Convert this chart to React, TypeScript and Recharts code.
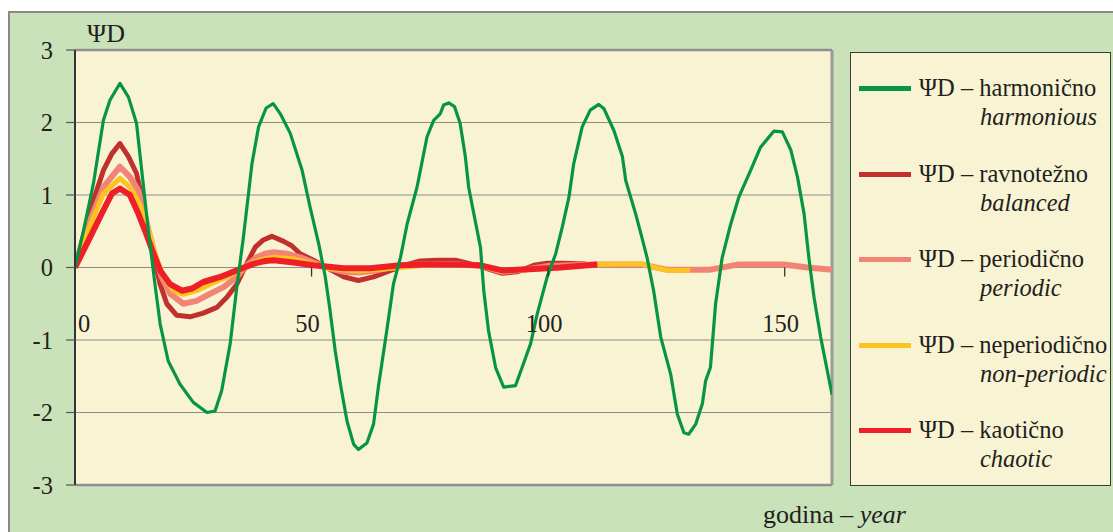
import React from 'react';
import { LineChart, Line, XAxis, YAxis, CartesianGrid, ReferenceLine } from 'recharts';

// ---- data (x = year, y = ΨD) ----
const harmonic: [number, number][] = [
  [0, 0], [1.8, 0.51], [3.9, 1.16], [6.0, 2.03], [7.4, 2.31], [9.5, 2.54], [11.3, 2.35], [13.0, 1.99],
  [14.1, 1.34], [15.5, 0.51], [16.9, -0.23], [18.0, -0.78], [19.7, -1.29], [22.2, -1.61], [25.0, -1.86],
  [27.9, -2.0], [29.6, -1.98], [31.0, -1.7], [32.8, -1.05], [34.2, -0.27], [35.6, 0.42], [37.4, 1.43],
  [38.8, 1.94], [40.4, 2.2], [41.9, 2.26], [43.4, 2.12], [45.5, 1.85], [48.0, 1.34], [49.7, 0.83],
  [51.5, 0.33], [52.9, -0.13], [53.9, -0.59], [55.0, -1.15], [56.1, -1.61], [57.5, -2.12], [58.9, -2.44],
  [59.9, -2.51], [61.7, -2.42], [63.1, -2.16], [64.2, -1.61], [65.9, -0.87], [67.3, -0.23], [68.8, 0.14],
  [70.2, 0.6], [72.3, 1.11], [74.4, 1.8], [75.8, 2.03], [77.2, 2.12], [77.9, 2.24], [79.0, 2.27],
  [80.2, 2.22], [81.4, 1.99], [82.5, 1.53], [83.2, 1.11], [84.3, 0.74], [85.7, 0.28], [86.4, -0.32],
  [87.4, -0.87], [88.9, -1.38], [90.6, -1.65], [93.1, -1.63], [94.5, -1.38], [96.3, -1.05], [97.7, -0.64],
  [99.8, -0.13], [101.6, 0.19], [103.0, 0.56], [104.4, 0.97], [105.4, 1.43], [107.2, 1.94], [108.9, 2.17],
  [110.7, 2.25], [111.8, 2.19], [113.9, 1.89], [115.7, 1.53], [116.4, 1.2], [118.5, 0.74], [119.8, 0.42],
  [120.9, 0.14], [122.3, -0.32], [123.8, -0.96], [125.9, -1.47], [127.3, -2.02], [128.7, -2.28],
  [129.7, -2.3], [131.2, -2.16], [132.6, -1.88], [133.3, -1.56], [134.3, -1.38], [135.4, -0.5],
  [136.8, 0.14], [138.6, 0.6], [140.3, 0.97], [142.8, 1.34], [144.9, 1.66], [147.7, 1.88], [149.5, 1.87],
  [151.3, 1.62], [152.7, 1.25], [154.1, 0.74], [155.1, 0.14], [156.2, -0.41], [157.6, -0.96], [160, -1.75],
];

const balanced: [number, number][] = [
  [0, 0], [3.2, 0.79], [6.0, 1.34], [7.8, 1.57], [9.5, 1.71], [11.3, 1.53], [13.0, 1.3], [14.4, 0.88],
  [16.2, 0.28], [18.0, -0.23], [19.4, -0.5], [21.5, -0.66], [24.3, -0.68], [27.1, -0.63], [30.0, -0.55],
  [32.1, -0.41], [34.2, -0.23], [36.3, 0.05], [38.1, 0.28], [39.8, 0.38], [41.6, 0.43], [44.1, 0.36],
  [45.8, 0.3], [47.6, 0.19], [50.4, 0.1], [53.2, 0.0], [56.8, -0.13], [59.9, -0.18], [63.1, -0.13],
  [65.9, -0.06], [69.5, 0.03], [73.0, 0.09], [76.5, 0.1], [80.4, 0.1], [83.6, 0.05], [86.4, 0.0],
  [90.3, -0.08], [93.4, -0.06], [97.0, 0.03], [99.8, 0.06], [103.3, 0.06], [108, 0.05],
];

const periodic: [number, number][] = [
  [0, 0], [3.2, 0.65], [6.0, 1.11], [9.5, 1.39], [11.6, 1.25], [13.4, 1.06], [14.8, 0.7], [16.6, 0.24],
  [18.3, -0.13], [20.1, -0.36], [22.9, -0.5], [25.7, -0.46], [28.6, -0.36], [31.4, -0.27], [34.2, -0.13],
  [36.3, 0.03], [38.4, 0.14], [40.2, 0.19], [42.0, 0.21], [44.8, 0.19], [47.6, 0.14], [50.4, 0.07],
  [53.2, 0.0], [56.8, -0.06], [60.0, -0.07], [63.8, -0.04], [69.0, 0.03], [73.0, 0.04], [80.0, 0.05],
  [86.0, 0.02], [90.3, -0.06], [95.0, -0.03], [100.0, 0.02], [110.0, 0.04], [120.0, 0.04], [125.0, -0.03],
  [130.1, -0.03], [134.3, -0.03], [140.0, 0.04], [144.0, 0.04], [149.8, 0.04], [154.8, 0.0], [160, -0.03],
];

const nonPeriodic: [number, number][] = [
  [0, 0], [3.2, 0.58], [6.0, 1.02], [9.5, 1.23], [11.6, 1.11], [13.6, 0.88], [15.2, 0.6], [16.9, 0.19],
  [18.7, -0.13], [20.8, -0.32], [22.9, -0.37], [25.7, -0.32], [28.6, -0.23], [32.1, -0.13], [34.9, -0.04],
  [37.7, 0.07], [40.2, 0.12], [42.0, 0.14], [46.2, 0.12], [50.4, 0.05], [53.2, -0.01], [60.0, -0.05],
  [67.0, -0.01], [74.0, 0.03], [80.0, 0.04], [86.0, 0.02], [90.3, -0.05], [97.0, -0.02], [102.6, 0.0],
  [110.4, 0.04], [119.5, 0.05], [125.2, -0.04], [130.0, -0.04],
];

const chaotic: [number, number][] = [
  [0, 0], [3.2, 0.42], [6.0, 0.79], [7.8, 1.02], [9.5, 1.09], [11.6, 1.0], [13.4, 0.74], [14.8, 0.51],
  [16.6, 0.19], [18.0, -0.04], [20.1, -0.23], [22.6, -0.32], [24.7, -0.29], [27.1, -0.2], [30.7, -0.13],
  [34.2, -0.04], [37.7, 0.05], [40.2, 0.09], [42.0, 0.1], [46.2, 0.07], [50.4, 0.03], [56.8, -0.01],
  [62.4, -0.01], [68.8, 0.03], [74.4, 0.04], [80.4, 0.04], [85.7, 0.03], [90.3, -0.04], [97.0, -0.02],
  [102.6, 0.0], [110.4, 0.04],
];

const X_TICKS = [0, 50, 100, 150];
const Y_TICKS = [-3, -2, -1, 0, 1, 2, 3];
const X_DOMAIN: [number, number] = [0, 160];
const Y_DOMAIN: [number, number] = [-3, 3];

const SERIES = [
  { key: 'balanced', data: balanced, color: '#c0312d', width: 5, sl: 'ΨD – ravnotežno', en: 'balanced' },
  { key: 'periodic', data: periodic, color: '#f28476', width: 6, sl: 'ΨD – periodično', en: 'periodic' },
  { key: 'nonPeriodic', data: nonPeriodic, color: '#fdc41f', width: 5, sl: 'ΨD – neperiodično', en: 'non-periodic' },
  { key: 'chaotic', data: chaotic, color: '#ee1f26', width: 6, sl: 'ΨD – kaotično', en: 'chaotic' },
  { key: 'harmonic', data: harmonic, color: '#079544', width: 3.2, sl: 'ΨD – harmonično', en: 'harmonious' },
];
const LEGEND_ORDER = ['harmonic', 'balanced', 'periodic', 'nonPeriodic', 'chaotic'];

const FONT = "'Liberation Serif', 'Times New Roman', serif";
const TEXT = '#231f20';
const FS = 24.5;

// layout of chart
const CHART_W = 1105;
const CHART_H = 521;
const M_TOP = 39;
const PLOT_H = 435;
const Y_AXIS_W = 67;
const M_RIGHT = 281;
const X_AXIS_H = CHART_H - M_TOP - PLOT_H;

const toPts = (arr: [number, number][]) => arr.map(([x, y]) => ({ x, y }));

const XTick = (props: any) => {
  const { x, payload } = props;
  const v = payload.value;
  const zeroY = M_TOP + (PLOT_H * (Y_DOMAIN[1] - 0)) / (Y_DOMAIN[1] - Y_DOMAIN[0]);
  const dx = v === 0 ? 9 : -4;
  return (
    <g>
      {v !== 0 && <line x1={x} x2={x} y1={zeroY} y2={zeroY + 9} stroke="#333" strokeWidth={1.3} />}
      <text x={x + dx} y={zeroY + 56} textAnchor="middle" dominantBaseline="central" style={{ fontFamily: FONT }} fontSize={FS} fill={TEXT}>
        {v}
      </text>
    </g>
  );
};

const YTick = (props: any) => {
  const { x, y, payload } = props;
  return (
    <text x={x} y={y} textAnchor="end" dominantBaseline="central" style={{ fontFamily: FONT }} fontSize={FS} fill={TEXT}>
      {payload.value}
    </text>
  );
};

const LegendBox = () => (
  <div
    style={{
      position: 'absolute',
      left: 842,
      top: 41,
      width: 261,
      height: 434,
      boxSizing: 'border-box',
      background: '#f8f4d3',
      border: '1.5px solid #3a3a3a',
      fontFamily: FONT,
      color: TEXT,
    }}
  >
    {LEGEND_ORDER.map((k, i) => {
      const s = SERIES.find((q) => q.key === k)!;
      return (
        <div key={s.key} style={{ position: 'absolute', left: 0, top: 20 + i * 85.5, width: '100%' }}>
          <div style={{ position: 'absolute', left: 8, top: 13, width: 52, height: 5, background: s.color }} />
          <div style={{ position: 'absolute', left: 68, top: 0, fontSize: FS, lineHeight: '30px', whiteSpace: 'nowrap' }}>
            {s.sl}
          </div>
          <div
            style={{ position: 'absolute', left: 129, top: 29, fontSize: FS, lineHeight: '30px', fontStyle: 'italic', whiteSpace: 'nowrap' }}
          >
            {s.en}
          </div>
        </div>
      );
    })}
  </div>
);

export default function App() {
  return (
    <div
      style={{
        position: 'fixed',
        left: 8,
        top: 11,
        width: CHART_W,
        height: CHART_H,
        background: '#c9e2b9',
        boxShadow: 'inset 2px 2px 0 #8a8a8a',
        fontFamily: FONT,
        overflow: 'hidden',
      }}
    >
      <div style={{ position: 'absolute', left: 79, top: 8, fontSize: 26, lineHeight: '30px', color: TEXT }}>ΨD</div>
      <div style={{ position: 'absolute', left: 755, top: 489, fontSize: 26, lineHeight: '30px', color: TEXT, whiteSpace: 'nowrap' }}>
        godina – <i>year</i>
      </div>
      <div style={{ position: 'absolute', left: 0, top: 0 }}>
        <LineChart
          width={CHART_W}
          height={CHART_H}
          margin={{ top: M_TOP, right: M_RIGHT, bottom: 0, left: 0 }}
        >
          <CartesianGrid vertical={false} stroke="#8c8c8c" strokeWidth={1.2} fill="#f8f4d3" fillOpacity={1} />
          <XAxis
            type="number"
            dataKey="x"
            domain={X_DOMAIN}
            ticks={X_TICKS}
            allowDataOverflow
            height={X_AXIS_H}
            axisLine={false}
            tickLine={false}
            tick={<XTick />}
            interval={0}
          />
          <YAxis
            type="number"
            dataKey="y"
            domain={Y_DOMAIN}
            ticks={Y_TICKS}
            width={Y_AXIS_W}
            interval={0}
            axisLine={{ stroke: '#333', strokeWidth: 2 }}
            tickLine={{ stroke: '#555', strokeWidth: 1.2 }}
            tickSize={9}
            tickMargin={13}
            tick={<YTick />}
          />
          <ReferenceLine y={3} stroke="#8f8f8f" strokeWidth={2.5} />
          <ReferenceLine y={-3} stroke="#8f8f8f" strokeWidth={2.5} />
          <ReferenceLine x={160} stroke="#9a9a9a" strokeWidth={3} />
          {SERIES.map((s) => (
            <Line
              key={s.key}
              name={s.key}
              data={toPts(s.data)}
              dataKey="y"
              type="linear"
              stroke={s.color}
              strokeWidth={s.width}
              dot={false}
              activeDot={false}
              isAnimationActive={false}
              strokeLinejoin="round"
            />
          ))}
        </LineChart>
      </div>
      <LegendBox />
    </div>
  );
}
